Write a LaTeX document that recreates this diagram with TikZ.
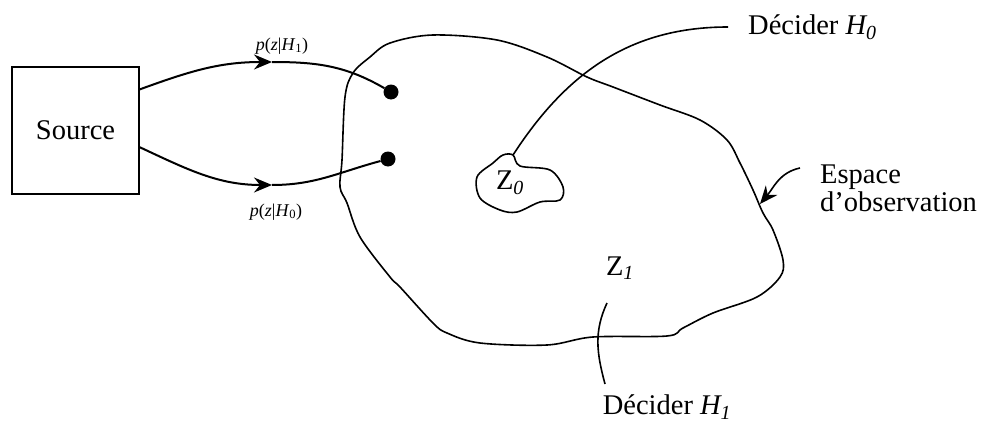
\documentclass[tikz,border=0pt]{standalone}
\usepackage{fontspec}
\setmainfont{Liberation Serif}
\usetikzlibrary{arrows.meta,calc}
\begin{document}
\begin{tikzpicture}[x=1pt,y=-1pt,
  lbl/.style={font=\fontsize{28.5}{32}\selectfont, inner sep=0pt},
  plbl/.style={font=\fontsize{18}{20}\selectfont, inner sep=0pt},
  wire/.style={line width=2pt},
  thin/.style={line width=1.6pt},
  tipa/.style={-{Stealth[length=18pt,width=15pt,inset=6pt]}},
  dotn/.style={circle, fill=black, inner sep=0pt, minimum size=15pt},
]
\useasboundingbox (0,0) rectangle (989,423);

% Source box
\node[draw, line width=1.4pt, minimum width=127pt, minimum height=127pt, inner sep=0pt,
      font=\fontsize{28.5}{32}\selectfont] (src) at (75.5,130.5) {Source};

% dots
\node[dotn] (d1) at (391,92) {};
\node[dotn] (d0) at (388,159) {};

% arrow points on the curves
\coordinate (a1) at (272,62);
\coordinate (a0) at (272,185);
\coordinate (s1) at ($(src.north east)!0.18!(src.south east)$);
\coordinate (s0) at ($(src.north east)!0.63!(src.south east)$);

\draw[wire,tipa] (s1) to[out=20,in=180] (a1);
\draw[wire] (a1) to[out=0,in=150] (d1);
\draw[wire,tipa] (s0) to[out=-25,in=180] (a0);
\draw[wire] (a0) to[out=0,in=-165] (d0);

% small labels
\node[plbl] (p1) at (282,46) {\textit{p}(\textit{z}|\textit{H}\textsubscript{1})};
\node[plbl] (p0) at (276,212) {\textit{p}(\textit{z}|\textit{H}\textsubscript{0})};

% observation space
\draw[thin] plot[smooth cycle, tension=0.55] coordinates {
 (433,35) (497,40) (547,57) (587,77) (613,87) (660,105) (700,120) (727,140)
 (740,163) (753,190) (763,213) (773,230) (783,260) (780,277) (757,297) (713,313)
 (683,328) (667,336) (593,337) (547,345) (480,343) (447,333) (433,323) (400,287)
 (390,277) (360,237) (347,203) (340,187) (342,160) (345,97) (353,73) (370,57) (390,43)};

% Z0 region
\draw[thin] plot[smooth cycle, tension=0.55] coordinates {
 (513,155) (520,166) (550,170) (563,187) (560,200) (540,202) (517,212) (500,210)
 (480,198) (477,177) (493,163) (503,155)};
\coordinate (z0top) at (513,155);
\node[lbl] (z0) at (510,183) {Z\textsubscript{\textit{0}}};

% Decider H0
\node[lbl, anchor=west] (dh0) at (748,27) {Décider \textit{H\textsubscript{0}}};
\coordinate (h0end) at ([xshift=-20pt]dh0.west);
\draw[thin] (z0top) to[out=57,in=180] (h0end);

% Espace d'observation
\node[lbl, anchor=west, align=left] (esp) at (820,188) {Espace\\[-4pt]d’observation};
\coordinate (e1) at (800,168);
\coordinate (e2) at (760,204);
\draw[thin,tipa] (e1) to[out=192,in=50] (e2);

% Z1 and Decider H1
\node[lbl] (z1) at (620,268) {Z\textsubscript{\textit{1}}};
\coordinate (h1a) at (607,303);
\coordinate (h1b) at (605,384);
\draw[thin] (h1a) to[out=245,in=105] (h1b);
\node[lbl] (dh1) at (667,407) {Décider \textit{H\textsubscript{1}}};
\end{tikzpicture}
\end{document}
